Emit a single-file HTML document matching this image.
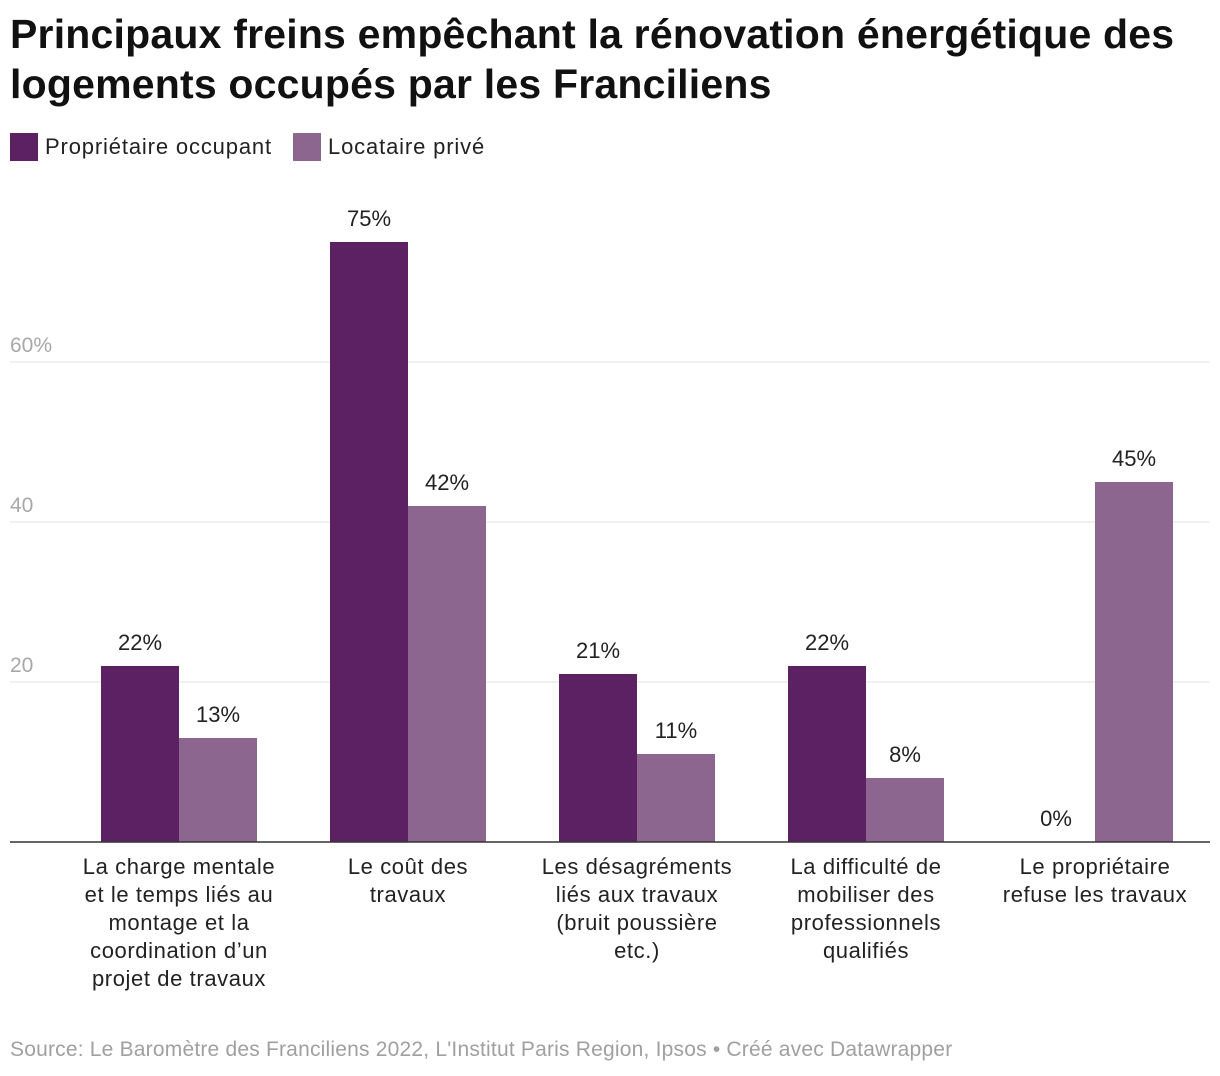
<!DOCTYPE html>
<html><head><meta charset="utf-8">
<style>
body{margin:0;background:#fff;font-family:"Liberation Sans",sans-serif;}
#wrap{position:relative;width:1220px;height:1076px;overflow:hidden;}
h1{position:absolute;left:10px;top:9px;margin:0;font-size:41px;line-height:50px;font-weight:bold;color:#111;letter-spacing:0.2px;}
.leg{position:absolute;top:133px;font-size:22px;letter-spacing:0.85px;color:#222;display:flex;align-items:center;}
.sw{width:28px;height:28px;margin-right:7px;}
.src{position:absolute;left:10px;top:1038px;font-size:21px;letter-spacing:0.2px;color:#a0a0a0;}
</style></head><body>
<div id="wrap">
<h1>Principaux freins empêchant la rénovation énergétique des logements occupés par les Franciliens</h1>
<div class="leg" style="left:10px"><div class="sw" style="background:#5c2162"></div>Propriétaire occupant</div>
<div class="leg" style="left:293px"><div class="sw" style="background:#8c668f"></div>Locataire privé</div>
<svg id="svg" width="1220" height="1076" style="position:absolute;left:0;top:0"></svg>
<div class="src">Source: Le Baromètre des Franciliens 2022, L'Institut Paris Region, Ipsos • Créé avec Datawrapper</div>
</div>
<script>
const categories=[["La charge mentale","et le temps liés au","montage et la","coordination d’un","projet de travaux"],["Le coût des","travaux"],["Les désagréments","liés aux travaux","(bruit poussière","etc.)"],["La difficulté de","mobiliser des","professionnels","qualifiés"],["Le propriétaire","refuse les travaux"]];
const proprietaire=[22,75,21,22,0];
const locataire=[13,42,11,8,45];
const ticks=[20,40,60];
const NS="http://www.w3.org/2000/svg";
const svg=document.getElementById('svg');
const y=v=>842-v*8;
const cx=i=>179+i*229;
function mk(t,a){const e=document.createElementNS(NS,t);for(const k in a)e.setAttribute(k,a[k]);svg.appendChild(e);return e;}
ticks.forEach(t=>{
 const l=mk('line',{x1:10,x2:1210,y1:y(t),y2:y(t),stroke:'#e0e0e0','stroke-width':1});
 
 
 const tx=mk('text',{x:10,y:y(t)-10,'font-size':21,fill:'#a8a8a8','font-family':'Liberation Sans, sans-serif'});
 tx.textContent=t+(t===60?'%':'');
 
 
});
const series=[[proprietaire,'#5c2162',-78],[locataire,'#8c668f',0]];
categories.forEach((c,i)=>{
 series.forEach(([arr,col,off],s)=>{
  const v=arr[i];
  const r=mk('rect',{x:cx(i)+off,y:y(v),width:78,height:v*8,fill:col});
  
  
  const t=mk('text',{x:cx(i)+off+39,y:y(v)-16,'font-size':22,fill:'#222','text-anchor':'middle','font-family':'Liberation Sans, sans-serif'});
  t.textContent=v+'%';
  
  
 });
 c.forEach((line,j)=>{
  const t=mk('text',{x:cx(i),y:874+j*28,'font-size':22,'letter-spacing':0.6,fill:'#222','text-anchor':'middle','font-family':'Liberation Sans, sans-serif'});
  t.textContent=line;
  
  
 });
});
const ax=mk('line',{x1:10,x2:1210,y1:842,y2:842,stroke:'#333','stroke-width':1.5});


</script>
</body></html>
